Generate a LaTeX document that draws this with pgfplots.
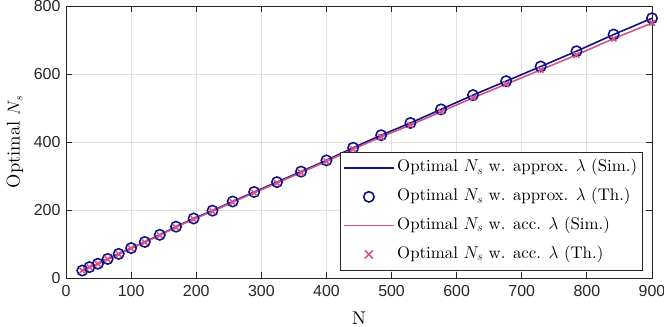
\documentclass[border=0pt]{standalone}
\usepackage{fontspec}
\setmainfont{lmroman10}[Extension=.otf, UprightFont=*-regular, BoldFont=*-bold, ItalicFont=*-italic, BoldItalicFont=*-bolditalic]
\usepackage{pgfplots}
\usepackage{pgfplotstable}
\pgfplotsset{compat=1.18}
\newfontfamily\tickfont{Liberation Sans}
\definecolor{cblue}{RGB}{18,18,135}
\definecolor{cpink}{RGB}{214,83,135}
\definecolor{axgray}{RGB}{38,38,38}
\definecolor{gridgray}{RGB}{225,225,225}

\pgfplotstableread{
N approx acc
25 22 22
36 32 31.5
49 42 41.5
64 56 55.5
81 71 70
100 88 87
121 106 105
144 127 125.5
169 151 149.5
196 175 173
225 198 196
256 225 223
289 253 250.5
324 282 279.5
361 313 310
400 346 343
441 383 379
484 420 415
529 456 450
576 496 489
625 538 530
676 579 570
729 622 612
784 667 656
841 716 704
900 764 750
}\datatable

\begin{document}
\begin{tikzpicture}
\begin{axis}[
 at={(0,0)}, anchor=south west,
 scale only axis, width=586bp, height=272bp,
 xmin=0, xmax=900, ymin=0, ymax=800,
 xtick={0,100,...,900}, ytick={0,200,...,800},
 tick align=inside, major tick length=6bp,
 grid=major, major grid style={gridgray, line width=0.8bp},
 axis line style={axgray, line width=0.8bp},
 tick style={axgray, line width=0.8bp},
 /pgf/number format/assume math mode=true,
 tick label style={font=\tickfont\fontsize{16}{16}\selectfont, text=axgray},
 xticklabel style={yshift=-4bp},
 yticklabel style={xshift=-2bp},
 xlabel={N}, ylabel={Optimal $N_s$},
 label style={font=\fontsize{18.5}{19}\selectfont},
 xlabel style={at={(axis description cs:0.5,-0.147)}, anchor=center},
 ylabel style={at={(axis description cs:-0.087,0.5)}, anchor=center},
 clip=false,
 legend style={at={(axis description cs:0.9846,0.0257)}, anchor=south east,
   draw=axgray, line width=0.8bp, fill=white,
   font=\fontsize{16.9}{18}\selectfont, row sep=6.5bp, inner xsep=3bp, inner ysep=5bp,
   nodes={inner sep=2.5bp, text height=12.3bp, text depth=5bp}},
 legend cell align=left,
]
\addplot[cblue, line width=1.6bp, no marks,
  legend image code/.code={\draw[cblue, line width=1.6bp] (0bp,0bp) -- (50bp,0bp);}]
  table[x=N, y=approx] {\datatable};
\addlegendentry{Optimal $N_s$ w. approx. $\lambda$ (Sim.)}
\addplot[cblue, only marks, mark=o, mark size=5.2bp, line width=1.6bp,
  legend image code/.code={\draw[cblue, line width=1.6bp] (25bp,0bp) circle[radius=5.2bp];}]
  table[x=N, y=approx] {\datatable};
\addlegendentry{Optimal $N_s$ w. approx. $\lambda$ (Th.)}
\addplot[cpink, line width=1.6bp, no marks,
  legend image code/.code={\draw[cpink, line width=1.6bp] (0bp,0bp) -- (50bp,0bp);}]
  table[x=N, y=acc] {\datatable};
\addlegendentry{Optimal $N_s$ w. acc. $\lambda$ (Sim.)}
\addplot[cpink, only marks, mark=x, mark size=4bp, line width=1.6bp,
  legend image code/.code={\draw[cpink, line width=1.6bp] (21bp,-4bp) -- (29bp,4bp) (21bp,4bp) -- (29bp,-4bp);}]
  table[x=N, y=acc] {\datatable};
\addlegendentry{Optimal $N_s$ w. acc. $\lambda$ (Th.)}
\end{axis}
\pgfresetboundingbox
\useasboundingbox (-66bp,-49bp) rectangle (598bp,278bp);
\end{tikzpicture}
\end{document}
